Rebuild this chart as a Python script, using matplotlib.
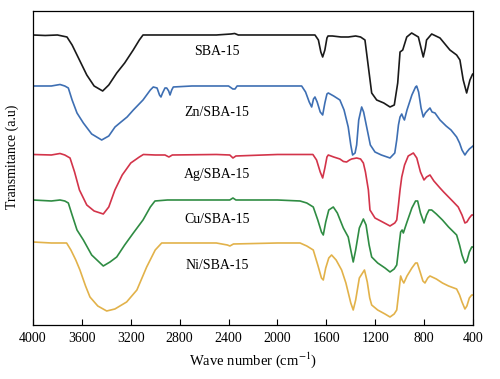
import numpy as np
import matplotlib
matplotlib.use("Agg")
import matplotlib.pyplot as plt

plt.rcParams['font.family'] = ['Liberation Serif', 'DejaVu Serif']
plt.rcParams['mathtext.fontset'] = 'stix'

# FTIR spectra, transmittance in arbitrary units (curves already offset)
sba_wn = [4000, 3900, 3800, 3722, 3680, 3620, 3560, 3500, 3430, 3380, 3315, 3250, 3180, 3130, 3100,
          2800, 2500, 2380, 2350, 2320, 2000, 1693, 1665, 1645, 1630, 1612, 1595, 1586, 1550, 1480,
          1420, 1360, 1320, 1284, 1256, 1229, 1188, 1130, 1079, 1044, 1016, 997, 975, 942, 902,
          847, 825, 807, 790, 780, 738, 670, 589, 534, 507, 480, 452, 425, 403, 400]
sba_t = [290, 289.5, 290, 288, 280, 265, 250, 239, 234, 240, 252, 262, 275, 285, 290,
         290, 290, 291, 291.5, 290, 290, 290, 285, 273, 268, 275, 287, 289, 289, 288,
         288, 289, 288, 285, 258, 232, 225, 222, 218, 220, 242, 273, 275, 288, 292,
         288, 277, 268, 277, 285, 291, 287, 275, 270, 265, 245, 232, 245, 251, 251]

zn_wn = [4000, 3850, 3779, 3740, 3711, 3680, 3640, 3588, 3520, 3438, 3380, 3329, 3280, 3230, 3179,
         3100, 3040, 3016, 2985, 2965, 2953, 2940, 2920, 2906, 2890, 2879, 2865, 2852, 2700, 2400,
         2365, 2347, 2330, 2000, 1802, 1770, 1740, 1720, 1705, 1693, 1675, 1650, 1630, 1612, 1595,
         1584, 1540, 1489, 1455, 1421, 1400, 1385, 1365, 1352, 1335, 1311, 1295, 1270, 1240, 1202,
         1150, 1079, 1040, 1024, 1010, 997, 983, 970, 961, 940, 900, 870, 861, 845, 825,
         807, 790, 768, 752, 735, 711, 670, 620, 580, 534, 510, 490, 466, 450, 430, 410, 400]
zn_t = [239, 239, 240.5, 239, 237, 225, 212, 202, 191, 185, 189, 198, 203, 208, 215,
        225, 235, 238, 237, 230, 228, 232, 237, 237, 234, 230, 235, 238, 239, 239,
        236, 236, 239, 239, 239, 233, 223, 218, 226, 228, 223, 213, 210, 222, 231,
        232, 229, 225, 215, 198, 180, 170, 172, 180, 205, 218, 213, 198, 180, 173,
        170, 167, 172, 185, 200, 208, 211, 207, 205, 215, 230, 238, 239, 233, 217,
        208, 212, 215, 217, 213, 212, 205, 199, 195, 188, 182, 175, 170, 173, 176, 178, 179]

ag_wn = [4000, 3850, 3779, 3740, 3697, 3660, 3620, 3560, 3500, 3425, 3380, 3330, 3270, 3200, 3130,
         3097, 3000, 2920, 2888, 2860, 2500, 2390, 2364, 2340, 2000, 1710, 1680, 1650, 1630, 1612,
         1595, 1584, 1540, 1489, 1460, 1434, 1410, 1393, 1352, 1320, 1297, 1280, 1256, 1243, 1202,
         1140, 1079, 1040, 1024, 1010, 997, 983, 960, 930, 888, 860, 830, 801, 780, 752,
         720, 670, 640, 600, 560, 521, 490, 466, 450, 430, 410, 400]
ag_t = [170.5, 170, 171.5, 170, 167, 153, 135, 120, 114, 111, 118, 135, 150, 162, 168,
        170.5, 170, 170, 168, 170, 170.5, 170, 167, 169, 170.5, 170.5, 165, 153, 147, 157,
        168, 170, 168, 166, 163.5, 163, 165, 166, 167, 166, 162, 153, 135, 115, 107,
        103, 99, 102, 105, 120, 135, 148, 160, 169, 172, 167, 153, 145, 148, 150,
        144, 137, 133, 128, 123, 118, 110, 102, 103, 107, 110, 110]

cu_wn = [4000, 3850, 3779, 3740, 3711, 3680, 3640, 3588, 3520, 3425, 3370, 3315, 3250, 3179, 3100,
         3040, 3002, 2900, 2600, 2390, 2364, 2340, 2000, 1815, 1760, 1707, 1670, 1640, 1625, 1605,
         1580, 1543, 1510, 1461, 1421, 1400, 1380, 1360, 1330, 1297, 1275, 1250, 1229, 1180, 1120,
         1079, 1045, 1024, 1005, 992, 980, 970, 940, 900, 870, 853, 830, 801, 780, 760,
         738, 700, 650, 600, 534, 510, 490, 466, 450, 430, 410, 400]
cu_t = [125, 124, 125, 124, 122, 110, 95, 85, 70, 59, 63, 68, 80, 92, 105,
        118, 124, 125, 125, 125, 127, 125, 125, 124, 122, 118, 105, 93, 90, 103,
        115, 118, 112, 97, 88, 75, 63, 75, 97, 106, 100, 80, 68, 62, 57,
        53, 56, 60, 80, 93, 95, 92, 103, 117, 124, 124, 112, 102, 110, 115,
        115, 111, 105, 98, 90, 80, 70, 62, 64, 73, 78, 78]

ni_wn = [4000, 3850, 3725, 3690, 3650, 3616, 3570, 3534, 3470, 3397, 3330, 3234, 3150, 3070, 3000,
         2947, 2800, 2500, 2410, 2389, 2360, 2000, 1815, 1760, 1707, 1670, 1640, 1625, 1605, 1580,
         1557, 1520, 1475, 1440, 1400, 1380, 1360, 1330, 1288, 1265, 1245, 1229, 1180, 1120, 1079,
         1045, 1024, 1005, 992, 980, 966, 940, 900, 870, 856, 830, 810, 793, 770, 752,
         700, 650, 600, 534, 510, 490, 466, 450, 430, 410, 400]
ni_t = [83, 82, 82, 75, 65, 55, 39, 28, 19, 14, 16, 23, 35, 58, 75,
        82, 82, 82, 80, 79, 81, 82, 82, 79, 75, 60, 47, 45, 57, 67,
        70, 65, 55, 42, 22, 15, 25, 47, 55, 43, 27, 20, 15, 11, 8,
        11, 15, 35, 49, 45, 42, 49, 57, 62, 62, 52, 44, 42, 47, 49,
        46, 42, 39, 36, 30, 23, 16, 19, 27, 30, 30]

samples = ['SBA-15', 'Zn/SBA-15', 'Ag/SBA-15', 'Cu/SBA-15', 'Ni/SBA-15']
label_y = [273, 212, 150, 105, 59]
colors = ['#1a1a1a', '#3e6fb3', '#d3344a', '#2f8c43', '#e2b24a']
spectra = [(sba_wn, sba_t), (zn_wn, zn_t), (ag_wn, ag_t), (cu_wn, cu_t), (ni_wn, ni_t)]

fig = plt.figure(figsize=(5, 3.79), dpi=100)
ax = fig.add_axes([0.066, 0.1425, 0.88, 0.8285])

for (wn, t), c in zip(spectra, colors):
    ax.plot(wn, t, color=c, linewidth=1.2, solid_joinstyle='round')

for name, yl in zip(samples, label_y):
    ax.text(2495, yl, name, ha='center', va='center', fontsize=10)

ax.set_xlim(4000, 400)
ax.set_ylim(0, 314)
ax.set_xticks(np.arange(4000, 399, -400))
ax.set_yticks([])
ax.tick_params(axis='x', direction='in', length=4, width=0.8, labelsize=10, pad=5)
for s in ax.spines.values():
    s.set_linewidth(0.9)

fig.text(0.506, 0.05, 'Wave number (cm$^{-1}$)', ha='center', va='center', fontsize=10.5)
fig.text(0.024, 0.585, 'Transmitance (a.u)', ha='center', va='center', rotation=90, fontsize=10)

fig.savefig('out.png', dpi=100)
